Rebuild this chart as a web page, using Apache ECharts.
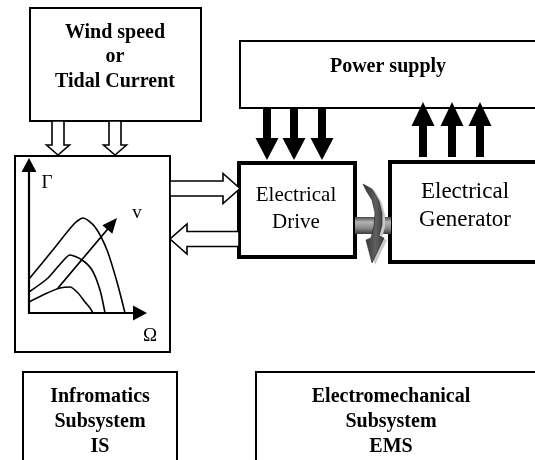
<!DOCTYPE html>
<html>
<head>
<meta charset="utf-8">
<script src="https://cdn.jsdelivr.net/npm/echarts@6/dist/echarts.min.js"></script>
<style>
html, body { margin: 0; padding: 0; background: #fff; }
#main { width: 535px; height: 460px; }
</style>
</head>
<body>
<div id="main"></div>
<script>
// diagram data, in page units (x to the right, y downwards)
// boxes: [x0, y0, x1, y1]
const thinBoxes = [[30, 8, 201, 121], [240, 41, 548, 108], [15, 156, 170, 352], [23, 372, 177, 472], [256, 372, 548, 472]]
const thickBoxes = [[239, 163, 355, 257], [390, 162, 548, 262]]

// labels: [text, x, y]
const boldLabels = [
  ['Wind speed', 115, 33], ['or', 115, 57], ['Tidal Current', 115, 82],
  ['Power supply', 388, 67],
  ['Infromatics', 100, 397], ['Subsystem', 100, 422], ['IS', 100, 447],
  ['Electromechanical', 391, 397], ['Subsystem', 391, 422], ['EMS', 391, 447]
]
const driveLabels = [['Electrical', 296, 195], ['Drive', 296, 222]]
const generatorLabels = [['Electrical', 465, 192], ['Generator', 465, 220]]
const graphLabels = [['Γ', 47, 183], ['v', 137, 213], ['Ω', 150, 336]]

// arrows: [xFrom, yFrom, xTo, yTo]
const hollowDownArrows = [[58, 121, 58, 155], [115, 121, 115, 155]]
const hollowSideArrows = [[170, 188.5, 240, 188.5], [239, 239, 170, 239]]
const blackDownArrows = [[267, 108, 267, 160], [294, 108, 294, 160], [322, 108, 322, 160]]
const blackUpArrows = [[423, 157, 423, 102], [452, 157, 452, 102], [480, 157, 480, 102]]
const graphAxes = [[29, 314, 29, 158], [28, 313, 147, 313]]
const speedArrow = [[58, 288, 117, 218]]

// torque / speed curves inside the small graph
const curveOuter = [[29, 279], [52, 251], [74, 224], [83, 218], [95, 227], [107, 250], [117, 282], [125, 313]]
const curveMiddle = [[29, 292], [48, 278], [62, 262], [70, 255], [82, 260], [92, 270], [100, 290], [105, 313]]
const curveInner = [[29, 302], [45, 294], [60, 288], [70, 287], [78, 293], [85, 302], [90, 308], [93, 313]]

// coupling shaft and rotation arrow
const shaft = [[355, 217, 391, 234]]
const rotorArrow = [
  [363, 184], [372, 189], [379, 201], [382, 213], [382, 225], [379, 236], [384, 238],
  [372, 263], [366, 240], [371, 238], [374, 226], [375, 213], [372, 200], [367, 192]
]

const serif = '"Liberation Serif", "Times New Roman", serif'

function boxSeries(list, lw) {
  return {
    type: 'custom',
    data: list,
    encode: { x: [0, 2], y: [1, 3] },
    silent: true,
    renderItem(params, api) {
      const b = list[params.dataIndex]
      const p0 = api.coord([b[0], b[1]])
      const p1 = api.coord([b[2], b[3]])
      return {
        type: 'rect',
        shape: { x: p0[0], y: p0[1], width: p1[0] - p0[0], height: p1[1] - p0[1] },
        style: { fill: 'none', stroke: '#000', lineWidth: lw }
      }
    }
  }
}

function labelSeries(list, font) {
  return {
    type: 'custom',
    data: list.map(l => [l[1], l[2]]),
    encode: { x: 0, y: 1 },
    silent: true,
    renderItem(params, api) {
      const l = list[params.dataIndex]
      const p = api.coord([l[1], l[2]])
      return {
        type: 'text',
        style: {
          text: l[0], x: p[0], y: p[1], font: font, fill: '#000',
          align: 'center', verticalAlign: 'middle'
        }
      }
    }
  }
}

// polygon of a straight arrow from a to b (pixels)
function arrowPoints(a, b, w, h, hw) {
  const dx = b[0] - a[0], dy = b[1] - a[1]
  const L = Math.hypot(dx, dy)
  const ux = dx / L, uy = dy / L, nx = -uy, ny = ux
  const loc = [[0, -w], [L - h, -w], [L - h, -hw], [L, 0], [L - h, hw], [L - h, w], [0, w]]
  return loc.map(q => [a[0] + ux * q[0] + nx * q[1], a[1] + uy * q[0] + ny * q[1]])
}

function arrowSeries(list, w, h, hw, style) {
  return {
    type: 'custom',
    data: list,
    encode: { x: [0, 2], y: [1, 3] },
    silent: true,
    renderItem(params, api) {
      const r = list[params.dataIndex]
      const a = api.coord([r[0], r[1]])
      const b = api.coord([r[2], r[3]])
      return {
        type: 'polygon',
        shape: { points: arrowPoints(a, b, w, h, hw) },
        style: style
      }
    }
  }
}

function curveSeries(points) {
  return {
    type: 'line',
    data: points,
    smooth: 0.25,
    symbol: 'none',
    silent: true,
    lineStyle: { color: '#000', width: 1.6 }
  }
}

const chart = echarts.init(document.getElementById('main'))
chart.setOption({
  animation: false,
  backgroundColor: '#fff',
  grid: { left: 0, right: 0, top: 0, bottom: 0 },
  xAxis: { type: 'value', min: 0, max: 535, show: false },
  yAxis: { type: 'value', min: 0, max: 460, inverse: true, show: false },
  series: [
    boxSeries(thinBoxes, 2),
    boxSeries(thickBoxes, 4),
    // shaft between drive and generator
    {
      type: 'custom',
      data: shaft,
      encode: { x: [0, 2], y: [1, 3] },
      silent: true,
      renderItem(params, api) {
        const s = shaft[params.dataIndex]
        const p0 = api.coord([s[0], s[1]])
        const p1 = api.coord([s[2], s[3]])
        return {
          type: 'rect',
          shape: { x: p0[0], y: p0[1], width: p1[0] - p0[0], height: p1[1] - p0[1] },
          style: {
            fill: new echarts.graphic.LinearGradient(0, 0, 0, 1, [
              { offset: 0, color: '#4a4a4a' },
              { offset: 0.3, color: '#b4b4b4' },
              { offset: 0.65, color: '#8a8a8a' },
              { offset: 1, color: '#3c3c3c' }
            ])
          }
        }
      }
    },
    // rotation arrow round the shaft
    {
      type: 'custom',
      data: [[370, 220]],
      encode: { x: 0, y: 1 },
      silent: true,
      renderItem(params, api) {
        const pts = rotorArrow.map(q => api.coord(q))
        return {
          type: 'group',
          children: [
            {
              type: 'polygon',
              shape: { points: pts.map(q => [q[0] + 3, q[1] + 2]) },
              style: { fill: '#c8c8c8' }
            },
            {
              type: 'polygon',
              shape: { points: pts },
              style: {
                fill: new echarts.graphic.LinearGradient(0, 0, 1, 0, [
                  { offset: 0, color: '#303030' },
                  { offset: 0.6, color: '#606060' },
                  { offset: 1, color: '#3a3a3a' }
                ]),
                stroke: '#222', lineWidth: 0.6
              }
            }
          ]
        }
      }
    },
    arrowSeries(hollowDownArrows, 6, 10, 11.5, { fill: '#fff', stroke: '#000', lineWidth: 1.6 }),
    arrowSeries(hollowSideArrows, 7.5, 17, 15, { fill: '#fff', stroke: '#000', lineWidth: 1.6 }),
    arrowSeries(blackDownArrows, 4, 22, 11.5, { fill: '#000' }),
    arrowSeries(blackUpArrows, 4, 24, 11.5, { fill: '#000' }),
    arrowSeries(graphAxes, 1.1, 14, 7.5, { fill: '#000' }),
    arrowSeries(speedArrow, 0.9, 15, 6.5, { fill: '#000' }),
    curveSeries(curveOuter),
    curveSeries(curveMiddle),
    curveSeries(curveInner),
    labelSeries(boldLabels, 'bold 20px ' + serif),
    labelSeries(driveLabels, '21px ' + serif),
    labelSeries(generatorLabels, '23px ' + serif),
    labelSeries(graphLabels, '19px ' + serif)
  ]
})
window.addEventListener('resize', () => chart.resize())
</script>
</body>
</html>
